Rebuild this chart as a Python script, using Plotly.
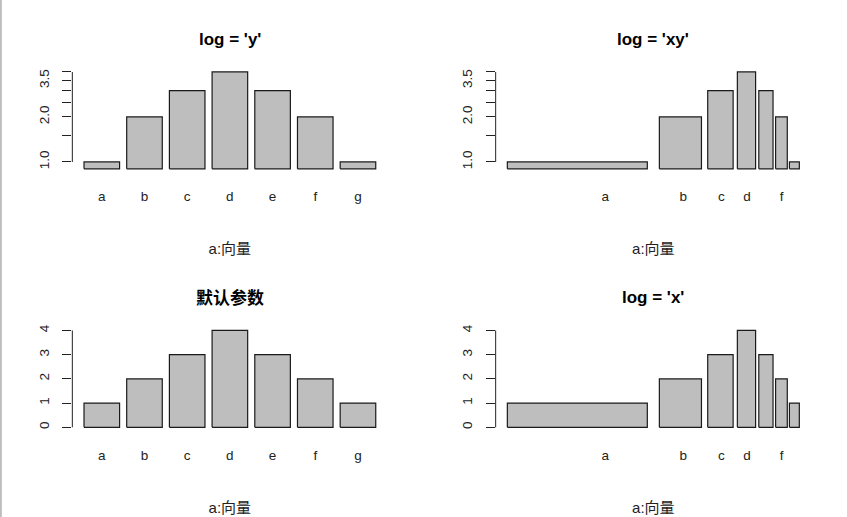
import math

import plotly.graph_objects as go

# bar heights and names (same vector in all four panels)
categories = ['a', 'b', 'c', 'd', 'e', 'f', 'g']
values = [1, 2, 3, 4, 3, 2, 1]

# (title, log x, log y) in mfrow order
panels = [
	("log = 'y'",  False, True),
	("log = 'xy'", True,  True),
	("默认参数",    False, False),
	("log = 'x'",  True,  False),
]
x_label = 'a:向量'

# names that survive overlap on the log x axis
log_x_ticktext = ['a', 'b', 'c', 'd', '', 'f', '']
log_y_tickvals = [1.0, 1.5, 2.0, 2.5, 3.0, 3.5, 4.0]
log_y_ticktext = ['1.0', '', '2.0', '', '', '3.5', '']
lin_y_tickvals = [0, 1, 2, 3, 4]

# barplot defaults
bar_width = 1.0
bar_space = 0.2

lefts  = [bar_space + i*(bar_width + bar_space) for i in range(len(values))]
rights = [l + bar_width for l in lefts]
mids   = [(l + r)/2 for l, r in zip(lefts, rights)]

def padded(lo, hi, log):
	if log:
		lo, hi = math.log10(lo), math.log10(hi)
	d = (hi - lo)*0.04
	return [lo - d, hi + d]

x_domains = [[0.0854, 0.4574], [0.5852, 0.9575]]
y_domains = [[0.6660, 0.8683], [0.1660, 0.3683]]
title_y   = [0.9245, 0.4245]

font = 'Liberation Sans, Arial, Noto Sans CJK SC'

fig = go.Figure()
shapes = []
annotations = []

for k, (title, logx, logy) in enumerate(panels, start=1):
	row, col = (k - 1)//2, (k - 1) % 2
	sfx = '' if k == 1 else str(k)
	base = 0.9*min(values) if logy else 0

	xs, ys = [], []
	for l, r, h in zip(lefts, rights, values):
		xs += [l, r, r, l, l, None]
		ys += [base, base, h, h, base, None]

	fig.add_trace(go.Scatter(
		x=xs, y=ys, mode='lines', fill='toself',
		fillcolor='#BEBEBE', line=dict(color='#1a1a1a', width=1.2),
		hoverinfo='skip', showlegend=False,
		xaxis='x' + sfx, yaxis='y' + sfx))

	yvals = log_y_tickvals if logy else lin_y_tickvals
	ytext = log_y_ticktext if logy else [str(v) for v in lin_y_tickvals]
	ylo = base if logy else 0

	fig.layout['xaxis' + sfx] = dict(
		domain=x_domains[col], anchor='y' + sfx,
		type='log' if logx else 'linear',
		range=padded(lefts[0], rights[-1], logx),
		tickmode='array', tickvals=mids,
		ticktext=log_x_ticktext if logx else categories,
		ticks='', showline=False, showgrid=False, zeroline=False,
		ticklabelstandoff=14,
		tickfont=dict(size=13.5, color='#222'),
		title=dict(text=x_label, standoff=40, font=dict(size=15, color='#222')),
		automargin=False)
	fig.layout['yaxis' + sfx] = dict(
		domain=y_domains[row], anchor='x' + sfx,
		type='log' if logy else 'linear',
		range=padded(ylo, max(values), logy),
		tickmode='array', tickvals=yvals, ticktext=ytext,
		ticks='outside', ticklen=9, tickwidth=1, tickcolor='#222',
		tickangle=-90, ticklabelstandoff=8,
		showline=False, showgrid=False, zeroline=False,
		tickfont=dict(size=13.5, color='#222'),
		automargin=False)

	# R draws the axis line only from first to last tick
	shapes.append(dict(
		type='line', xref='x' + sfx + ' domain', yref='y' + sfx,
		x0=0, x1=0, y0=yvals[0], y1=yvals[-1],
		line=dict(color='#222', width=1)))

	annotations.append(dict(
		text='<b>' + title + '</b>', xref='paper', yref='paper',
		x=sum(x_domains[col])/2, y=title_y[row],
		xanchor='center', yanchor='middle', showarrow=False,
		font=dict(size=17, color='black')))

# grey frame edge on the left of the screenshot
shapes.append(dict(type='line', xref='paper', yref='paper',
	x0=0.001, x1=0.001, y0=0, y1=1, line=dict(color='#BDBDBD', width=2)))

fig.update_layout(
	width=847, height=517,
	margin=dict(l=0, r=0, t=0, b=0),
	paper_bgcolor='white', plot_bgcolor='white',
	font=dict(family=font, color='black'),
	shapes=shapes, annotations=annotations)

fig.write_html("out.html", config={'displayModeBar': False},
	post_script="document.body.style.margin='0';document.body.style.overflow='hidden';")
